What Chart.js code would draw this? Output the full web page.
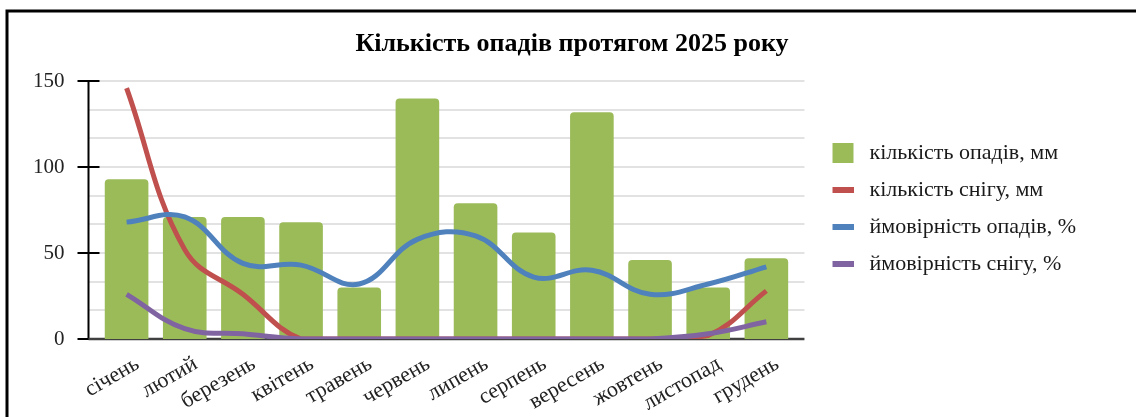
<!DOCTYPE html>
<html lang="uk">
<head>
<meta charset="utf-8">
<title>Кількість опадів протягом 2025 року</title>
<script src="https://cdn.jsdelivr.net/npm/chart.js@4.4.1/dist/chart.umd.min.js"></script>
<style>
  html, body { margin: 0; padding: 0; background: #fff; }
  #wrap { position: relative; width: 1136px; height: 417px; }
</style>
</head>
<body>
<div id="wrap"><canvas id="rainChart"></canvas></div>
<script>
const months = ['січень', 'лютий', 'березень', 'квітень', 'травень', 'червень',
                'липень', 'серпень', 'вересень', 'жовтень', 'листопад', 'грудень'];
const precipMm = [93, 71, 71, 68, 30, 140, 79, 62, 132, 46, 30, 47];
const snowMm = [146, 52, 26, 0, 0, 0, 0, 0, 0, 0, 2, 28];
const precipChance = [68, 71, 44, 43, 32, 58, 60, 36, 40, 26, 32, 42];
const snowChance = [26, 6, 3, 0, 0, 0, 0, 0, 0, 0, 3, 10];
const yLabels = [0, 50, 100, 150];

const serif = "'Liberation Serif', 'Times New Roman', serif";

// legend marker: coloured block sitting in the right part of a wider transparent canvas
function makeSwatch(color, w, h) {
    const c = document.createElement('canvas');
    c.width = 40;
    c.height = h;
    const g = c.getContext('2d');
    g.fillStyle = color;
    g.fillRect(18, 0, w, h);
    return c;
}

function isMajor(v) {
    return yLabels.some(l => Math.abs(l - v) < 0.01);
}

const swatches = [
    makeSwatch('#9bbb59', 21, 20),
    makeSwatch('#c0504d', 22, 6),
    makeSwatch('#4f81bd', 22, 6),
    makeSwatch('#8064a2', 22, 6)
];

// axis, gridlines and tick marks reach a little past the category band (like Excel)
const axes = {
    id: 'axes',
    afterLayout(chart) {
        // nudge title to the middle of the frame and lift the legend a bit
        if (chart.titleBlock) chart.titleBlock.left += 58;
        if (chart.legend) chart.legend.bottom -= 14;
    },
    beforeDatasetsDraw(chart) {
        const c = chart.ctx;
        const a = chart.chartArea;
        const y = chart.scales.y;
        const x0 = a.left - 9;
        const x1 = a.right + 9;
        c.save();
        c.strokeStyle = '#d9d9d9';
        c.lineWidth = 1.5;
        y.ticks.forEach(t => {
            if (Math.abs(t.value) < 0.01) return;
            const py = Math.round(y.getPixelForValue(t.value));
            c.beginPath();
            c.moveTo(x0, py);
            c.lineTo(x1, py);
            c.stroke();
        });
        c.strokeStyle = '#000';
        c.lineWidth = 2;
        c.beginPath();
        c.moveTo(x0, y.getPixelForValue(150));
        c.lineTo(x0, y.getPixelForValue(0));
        c.stroke();
        yLabels.forEach(v => {
            const py = Math.round(y.getPixelForValue(v));
            c.beginPath();
            c.moveTo(x0 - 11, py);
            c.lineTo(x0 + 11, py);
            c.stroke();
        });
        c.strokeStyle = '#404040';
        c.lineWidth = 2.5;
        c.beginPath();
        c.moveTo(x0, y.getPixelForValue(0));
        c.lineTo(x1, y.getPixelForValue(0));
        c.stroke();
        c.restore();
    },
    afterDraw(chart) {
        const c = chart.ctx;
        c.save();
        c.strokeStyle = '#000';
        c.lineWidth = 3;
        c.beginPath();
        c.moveTo(7, 417);
        c.lineTo(7, 11);
        c.lineTo(1136, 11);
        c.stroke();
        c.restore();
    }
};

const ctx = document.getElementById('rainChart').getContext('2d');

new Chart(ctx, {
    data: {
        labels: months,
        datasets: [
            {
                type: 'bar',
                label: 'кількість опадів, мм',
                data: precipMm,
                backgroundColor: '#9bbb59',
                borderRadius: 4,
                borderSkipped: 'bottom',
                barPercentage: 0.75,
                categoryPercentage: 1,
                order: 10
            },
            {
                type: 'line',
                label: 'кількість снігу, мм',
                data: snowMm,
                borderColor: '#c0504d',
                borderWidth: 5,
                pointRadius: 0,
                tension: 0.4,
                order: 3
            },
            {
                type: 'line',
                label: 'ймовірність опадів, %',
                data: precipChance,
                borderColor: '#4f81bd',
                borderWidth: 5,
                pointRadius: 0,
                tension: 0.4,
                order: 2
            },
            {
                type: 'line',
                label: 'ймовірність снігу, %',
                data: snowChance,
                borderColor: '#8064a2',
                borderWidth: 5,
                pointRadius: 0,
                tension: 0.4,
                order: 1
            }
        ]
    },
    options: {
        responsive: true,
        maintainAspectRatio: false,
        animation: false,
        layout: {
            padding: { left: 0, right: 50, top: 14, bottom: 0 }
        },
        scales: {
            x: {
                grid: { display: false },
                border: { display: false },
                ticks: {
                    font: { family: serif, size: 22 },
                    color: '#222',
                    minRotation: 30,
                    maxRotation: 30,
                    autoSkip: false,
                    labelOffset: 11,
                    padding: 4
                },
                afterFit: scale => {
                    // rotated labels may hang outside the plot, as in the original
                    scale.paddingLeft = 0;
                    scale.paddingRight = 0;
                    scale.height = 78;
                }
            },
            y: {
                min: 0,
                max: 150,
                border: { display: false },
                grid: { display: false, drawTicks: false, tickLength: 0 },
                ticks: {
                    stepSize: 50 / 3,
                    padding: 33,
                    font: { family: serif, size: 21 },
                    color: '#222',
                    callback: v => isMajor(v) ? Math.round(v) : ''
                }
            }
        },
        plugins: {
            title: {
                display: true,
                text: 'Кількість опадів протягом 2025 року',
                color: '#000',
                font: { family: serif, size: 26, weight: 'bold' },
                padding: { top: 15, bottom: 21 }
            },
            legend: {
                position: 'right',
                align: 'center',
                maxWidth: 400,
                labels: {
                    usePointStyle: true,
                    pointStyleWidth: 48,
                    padding: 15,
                    color: '#1a1a1a',
                    font: { family: serif, size: 22 },
                    sort: (a, b) => a.datasetIndex - b.datasetIndex,
                    generateLabels: chart => {
                        const items = Chart.defaults.plugins.legend.labels.generateLabels(chart);
                        items.forEach(item => {
                            item.pointStyle = swatches[item.datasetIndex];
                        });
                        return items;
                    }
                }
            },
            tooltip: { enabled: false }
        }
    },
    plugins: [axes]
});
</script>
</body>
</html>
